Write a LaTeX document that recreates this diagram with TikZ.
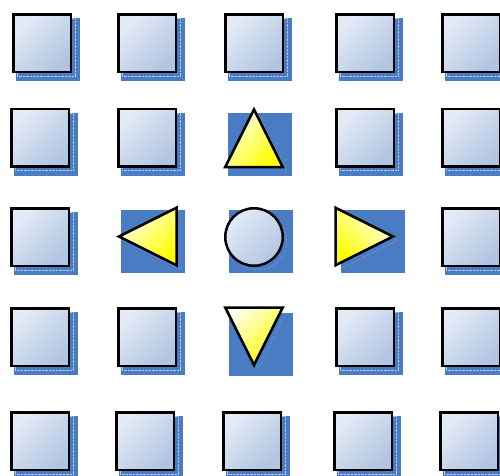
\documentclass[tikz,border=0pt]{standalone}
\usepackage{tikz}
\usetikzlibrary{shapes.geometric}
\usetikzlibrary{shadows}
\definecolor{shadowblue}{HTML}{4A7CC3}
\definecolor{tilelight}{HTML}{E4EBF6}
\definecolor{tiledark}{HTML}{B1C5E2}
\definecolor{pointerlight}{HTML}{FFFFE8}

\begin{document}
\begin{tikzpicture}[
x=1pt, y=-1pt,
backdrop/.style={rectangle, fill=shadowblue, minimum width=64pt, minimum height=63pt, inner sep=0, outer sep=0},
outline/.style={draw=black, line width=2.5pt, inner sep=0, outer sep=0, minimum size=57.5pt,
    general shadow={shadow xshift=4pt, shadow yshift=-4pt, draw=white!60!shadowblue, densely dotted, line width=0.4pt}},
tile/.style={outline, rectangle, top color=tilelight, bottom color=tiledark, shading angle=45},
hub/.style={outline, circle, top color=tilelight, bottom color=tiledark, shading angle=45},
pointer/.style={outline, isosceles triangle, isosceles triangle stretches, anchor=apex,
    top color=pointerlight, bottom color=yellow, shading angle=45}
]
\useasboundingbox (0,0) rectangle (500,475);
% Grid of tiles
\foreach \n/\x/\y in {11/42/43, 12/147/43, 13/254/43, 14/365/43, 15/471/43,
                      21/40/137.5, 22/147/137.5, 24/365/137.5, 25/471/137.5,
                      31/40/237, 35/471/237,
                      41/40/337, 42/147/337, 44/365/337, 45/471/337,
                      51/40/441, 52/145/441, 53/252/441, 54/363/441, 55/469/441}{
    \node[backdrop] (b\n) at (\x+6,\y+6.5) {};
    \node[tile] (t\n) at (\x,\y) {};
}
% Center cross
\node[backdrop] (b23) at (260,144) {};
\node[pointer, shape border rotate=90] (up) at (254,109.5) {};
\node[backdrop] (b32) at (153,241.5) {};
\node[pointer, shape border rotate=180] (left) at (119,236.5) {};
\node[backdrop] (b33) at (260.5,241.5) {};
\node[hub] (mid) at (254,237) {};
\node[backdrop] (b34) at (372.5,241.5) {};
\node[pointer, shape border rotate=0, shading angle=-45] (right) at (393,236.5) {};
\node[backdrop] (b43) at (261,344) {};
\node[pointer, shape border rotate=270] (down) at (254,365) {};
\end{tikzpicture}
\end{document}
